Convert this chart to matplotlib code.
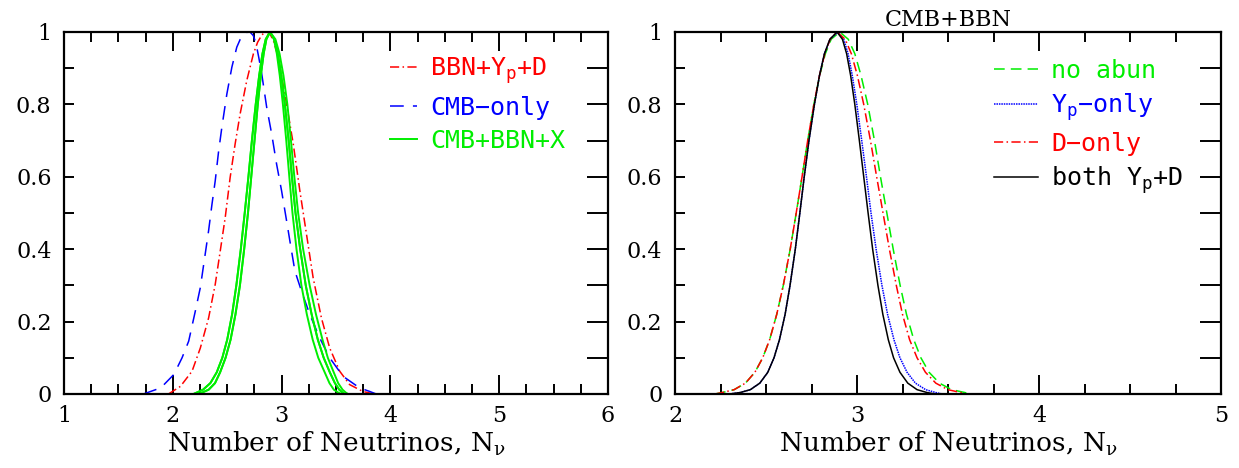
import matplotlib
matplotlib.use("Agg")
import matplotlib.pyplot as plt
from matplotlib.ticker import MultipleLocator, FixedLocator, FixedFormatter

plt.rcParams['mathtext.default'] = 'regular'

# ---------------- data ----------------
# probability levels at which the narrow curves were read (rise, peak, fall)
levels = [0.0, 0.004, 0.012, 0.03, 0.06, 0.10, 0.15, 0.22, 0.30, 0.40, 0.50, 0.60, 0.70,
          0.80, 0.88, 0.94, 0.98, 1.0, 0.98, 0.94, 0.88, 0.80, 0.70, 0.60, 0.50, 0.40,
          0.30, 0.22, 0.15, 0.10, 0.06, 0.03, 0.012, 0.004, 0.0]

# Left panel
cmb_only_x = [1.73, 1.89, 2.01, 2.085, 2.146, 2.207, 2.253, 2.284, 2.329, 2.36, 2.39, 2.42,
              2.451, 2.497, 2.543, 2.588, 2.62, 2.65, 2.68, 2.71, 2.74, 2.765, 2.79, 2.817,
              2.863, 2.909, 2.954, 3.0, 3.046, 3.076, 3.122, 3.183, 3.259, 3.35, 3.442, 3.564,
              3.716, 3.81, 3.87]
cmb_only_y = [0.0, 0.017, 0.054, 0.10, 0.146, 0.229, 0.294, 0.358, 0.451, 0.524, 0.589, 0.668,
              0.737, 0.829, 0.903, 0.958, 0.980, 0.993, 0.999, 1.0, 0.990, 0.968, 0.93, 0.885,
              0.792, 0.718, 0.635, 0.561, 0.478, 0.423, 0.340, 0.284, 0.220, 0.155, 0.100,
              0.049, 0.017, 0.007, 0.0]

bbn_x = [1.96, 2.07, 2.177, 2.253, 2.329, 2.39, 2.436, 2.482, 2.527, 2.573, 2.619, 2.68, 2.741,
         2.78, 2.817, 2.84, 2.863, 2.89, 2.924, 2.955, 2.985, 3.046, 3.107, 3.168, 3.229, 3.29,
         3.366, 3.442, 3.534, 3.625, 3.747, 3.85]
bbn_y = [0.0, 0.021, 0.063, 0.127, 0.21, 0.303, 0.395, 0.488, 0.598, 0.691, 0.774, 0.866, 0.94,
         0.972, 0.991, 0.998, 1.0, 0.996, 0.977, 0.945, 0.903, 0.80, 0.691, 0.561, 0.441, 0.321,
         0.21, 0.127, 0.063, 0.026, 0.007, 0.0]

# CMB+BBN+X family (four green curves), x positions at the probability levels above
cbx1_x = [2.24, 2.27, 2.33, 2.388, 2.435, 2.485, 2.531, 2.576, 2.617, 2.656, 2.691, 2.721,
          2.751, 2.781, 2.809, 2.835, 2.86, 2.893,
          2.929, 2.956, 2.983, 3.012, 3.043, 3.071, 3.10, 3.137, 3.182, 3.232, 3.286, 3.337,
          3.396, 3.44, 3.48, 3.52, 3.55]
cbx2_x = [2.24, 2.27, 2.33, 2.388, 2.435, 2.485, 2.531, 2.576, 2.617, 2.656, 2.691, 2.721,
          2.751, 2.781, 2.809, 2.835, 2.86, 2.893,
          2.934, 2.965, 2.997, 3.03, 3.065, 3.095, 3.128, 3.171, 3.222, 3.276, 3.333, 3.387,
          3.443, 3.49, 3.53, 3.56, 3.58]
cbx3_x = [2.19, 2.22, 2.278, 2.345, 2.404, 2.455, 2.500, 2.545, 2.584, 2.625, 2.661, 2.695,
          2.727, 2.762, 2.794, 2.824, 2.854, 2.893,
          2.943, 2.981, 3.017, 3.053, 3.086, 3.117, 3.152, 3.198, 3.258, 3.316, 3.376, 3.425,
          3.479, 3.52, 3.56, 3.59, 3.61]
cbx4_x = [2.19, 2.22, 2.278, 2.345, 2.404, 2.455, 2.500, 2.545, 2.584, 2.625, 2.661, 2.695,
          2.727, 2.762, 2.794, 2.824, 2.854, 2.893,
          2.934, 2.965, 2.997, 3.03, 3.065, 3.095, 3.128, 3.171, 3.222, 3.276, 3.333, 3.387,
          3.443, 3.49, 3.53, 3.56, 3.58]

# Right panel (x positions at the probability levels above)
both_x = [2.30, 2.358, 2.414, 2.466, 2.51, 2.544, 2.574, 2.605, 2.632, 2.661, 2.686, 2.71,
          2.736, 2.766, 2.794, 2.821, 2.851, 2.89,
          2.92, 2.943, 2.965, 2.988, 3.013, 3.037, 3.061, 3.086, 3.115, 3.142, 3.172, 3.201,
          3.236, 3.279, 3.33, 3.385, 3.43]
yp_x = [2.30, 2.358, 2.414, 2.466, 2.51, 2.544, 2.574, 2.605, 2.632, 2.661, 2.686, 2.71,
        2.736, 2.766, 2.794, 2.821, 2.852, 2.895,
        2.927, 2.951, 2.974, 2.999, 3.026, 3.052, 3.077, 3.105, 3.137, 3.168, 3.203, 3.236,
        3.275, 3.321, 3.377, 3.433, 3.47]
donly_x = [2.22, 2.259, 2.325, 2.387, 2.439, 2.482, 2.52, 2.559, 2.595, 2.633, 2.666, 2.698,
           2.729, 2.763, 2.794, 2.823, 2.852, 2.89,
           2.935, 2.969, 3.002, 3.037, 3.074, 3.108, 3.143, 3.178, 3.216, 3.25, 3.289, 3.33,
           3.376, 3.433, 3.499, 3.571, 3.60]
noab_x = [2.22, 2.259, 2.325, 2.387, 2.439, 2.482, 2.52, 2.559, 2.595, 2.633, 2.666, 2.698,
          2.729, 2.763, 2.795, 2.826, 2.858, 2.905,
          2.952, 2.988, 3.022, 3.059, 3.096, 3.129, 3.164, 3.199, 3.237, 3.272, 3.312, 3.351,
          3.396, 3.453, 3.52, 3.593, 3.62]

left_xticks = [1, 2, 3, 4, 5, 6]
right_xticks = [2, 3, 4, 5]
yticks = [0, 0.2, 0.4, 0.6, 0.8, 1.0]
ytick_labels = ['0', '0.2', '0.4', '0.6', '0.8', '1']
xlabel = r'Number of Neutrinos, N$_{\nu}$'

RED = '#ff0000'
BLUE = '#0000ff'
GREEN = '#00ee00'
TICKFONT = 'DejaVu Serif'
LABELFONT = 'DejaVu Serif'
LEGFONT = 'DejaVu Sans Mono'

fig = plt.figure(figsize=(12.39, 4.68), dpi=100)
axL = fig.add_axes([64/1239, 1-394/468, (608-64)/1239, (394-32)/468])
axR = fig.add_axes([675/1239, 1-394/468, (1221-675)/1239, (394-32)/468])


def style(ax, xlim, xticks):
    ax.set_xlim(*xlim)
    ax.set_ylim(0, 1)
    for s in ax.spines.values():
        s.set_linewidth(1.6)
    ax.xaxis.set_major_locator(FixedLocator(xticks))
    ax.xaxis.set_major_formatter(FixedFormatter([str(t) for t in xticks]))
    ax.xaxis.set_minor_locator(MultipleLocator(0.25))
    ax.yaxis.set_major_locator(FixedLocator(yticks))
    ax.yaxis.set_major_formatter(FixedFormatter(ytick_labels))
    ax.yaxis.set_minor_locator(MultipleLocator(0.1))
    ax.tick_params(axis='x', which='major', direction='in', top=True, bottom=True,
                   length=14, width=1.4, pad=8, labelsize=16)
    ax.tick_params(axis='x', which='minor', direction='in', top=True, bottom=True,
                   length=7, width=1.4)
    ax.tick_params(axis='y', which='both', direction='in', left=True, right=False,
                   length=7, width=1.4, pad=9, labelsize=16)
    for lab in ax.get_xticklabels() + ax.get_yticklabels():
        lab.set_fontfamily(TICKFONT)
    ax.set_xlabel(xlabel, fontsize=19, family=LABELFONT, labelpad=2)
    # right-side long ticks
    tw = ax.twinx()
    tw.set_ylim(0, 1)
    tw.yaxis.set_major_locator(MultipleLocator(0.1))
    tw.yaxis.set_minor_locator(MultipleLocator(0.1))
    tw.tick_params(axis='y', which='both', direction='in', right=True, length=15,
                   width=1.4, labelright=False)
    for s in tw.spines.values():
        s.set_visible(False)


style(axL, (1, 6), left_xticks)
style(axR, (2, 5), right_xticks)

# Left panel curves
axL.plot(bbn_x, bbn_y, color=RED, lw=1.1, dashes=(6, 2.2, 1, 2.2), label=r'BBN+Y$_{p}$+D')
axL.plot(cmb_only_x, cmb_only_y, color=BLUE, lw=1.1, dashes=(9, 6), label='CMB\u2212only')
axL.plot(cbx1_x, levels, color=GREEN, lw=1.4, label='CMB+BBN+X')
axL.plot(cbx2_x, levels, color=GREEN, lw=1.4)
axL.plot(cbx3_x, levels, color=GREEN, lw=1.4)
axL.plot(cbx4_x, levels, color=GREEN, lw=1.4)

legL = axL.legend(loc='upper left', bbox_to_anchor=(0.6, 0.935), frameon=False,
                  borderpad=0, borderaxespad=0, handlelength=1.05, handletextpad=0.55,
                  labelspacing=0.38, labelcolor='linecolor',
                  prop={'family': LEGFONT, 'size': 18})

# Right panel curves
axR.plot(noab_x, levels, color=GREEN, lw=1.1, dashes=(7, 4), label='no abun')
axR.plot(yp_x, levels, color=BLUE, lw=1.1, dashes=(1, 0.6), label='Y$_{p}$\u2212only')
axR.plot(donly_x, levels, color=RED, lw=1.1, dashes=(6, 2.2, 1, 2.2), label='D\u2212only')
axR.plot(both_x, levels, color='black', lw=1.1, label=r'both Y$_{p}$+D')

legR = axR.legend(loc='upper left', bbox_to_anchor=(0.584, 0.925), frameon=False,
                  borderpad=0, borderaxespad=0, handlelength=1.75, handletextpad=0.55,
                  labelspacing=0.34, labelcolor='linecolor',
                  prop={'family': LEGFONT, 'size': 18})

axR.set_title('CMB+BBN', fontsize=16, family=LABELFONT, pad=4)

fig.savefig('out.png', dpi=100)
